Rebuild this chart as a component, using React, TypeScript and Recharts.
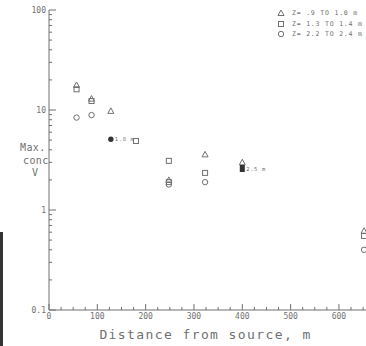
import React from "react";
import { ScatterChart, Scatter, XAxis, YAxis, Legend } from "recharts";

const xTicks = [
  0, 25, 50, 75, 100, 125, 150, 175, 200, 225, 250, 275, 300, 325, 350, 375,
  400, 425, 450, 475, 500, 525, 550, 575, 600, 625, 650,
];
const xLabels = [0, 100, 200, 300, 400, 500, 600];
const yTicks = [
  0.1, 0.2, 0.3, 0.4, 0.5, 0.6, 0.7, 0.8, 0.9, 1, 2, 3, 4, 5, 6, 7, 8, 9, 10,
  20, 30, 40, 50, 60, 70, 80, 90, 100,
];
const yLabels = [0.1, 1, 10, 100];

const triangleData = [
  { x: 57, y: 17.8 },
  { x: 88, y: 13 },
  { x: 128, y: 9.8 },
  { x: 248, y: 2.0 },
  { x: 323, y: 3.6 },
  { x: 400, y: 3.0 },
  { x: 652, y: 0.62 },
];
const squareData = [
  { x: 57, y: 16.1 },
  { x: 88, y: 12.3 },
  { x: 180, y: 4.9 },
  { x: 248, y: 3.1 },
  { x: 248, y: 1.9 },
  { x: 323, y: 2.35 },
  { x: 652, y: 0.55 },
];
const circleData = [
  { x: 57, y: 8.4 },
  { x: 88, y: 8.9 },
  { x: 248, y: 1.8 },
  { x: 323, y: 1.9 },
  { x: 652, y: 0.4 },
];
const filledData = [
  { x: 128, y: 5.1, label: "1.8 m", kind: "circle" },
  { x: 400, y: 2.6, label: "2.5 m", kind: "square" },
];

const legendItems = [
  { kind: "triangle", text: "Z= .9 TO 1.0 m" },
  { kind: "square", text: "Z= 1.3 TO 1.4 m" },
  { kind: "circle", text: "Z= 2.2 TO 2.4 m" },
];

const GRAY = "#707070";
const MONO = "'DejaVu Sans Mono', monospace";
const AXIS_X = 49;
const AXIS_Y = 310;

function marker(kind: string, cx: number, cy: number, fill: string) {
  if (kind === "triangle") {
    return (
      <path
        d={`M${cx},${cy - 3} L${cx + 3},${cy + 2.5} L${cx - 3},${cy + 2.5} Z`}
        fill={fill}
        stroke={GRAY}
        strokeWidth={1}
      />
    );
  }
  if (kind === "square") {
    return (
      <rect x={cx - 2.5} y={cy - 2.5} width={5} height={5} fill={fill} stroke={GRAY} strokeWidth={1} />
    );
  }
  return <circle cx={cx} cy={cy} r={2.7} fill={fill} stroke={GRAY} strokeWidth={1} />;
}

const shapeOf = (kind: string) => (props: any) => marker(kind, props.cx, props.cy, "none");

const FilledShape = (props: any) => {
  const { cx, cy, payload } = props;
  return (
    <g>
      {payload.kind === "circle" ? (
        <circle cx={cx} cy={cy} r={2.7} fill="#333" />
      ) : (
        <rect x={cx - 2.5} y={cy - 3.5} width={5} height={7} fill="#333" />
      )}
      <text x={cx + 4} y={cy + 2} fontSize={5.5} fontFamily={MONO} fill={GRAY} letterSpacing={0.6}>
        {payload.label}
      </text>
    </g>
  );
};

const XTick = (props: any) => {
  const { x, payload } = props;
  const v = payload.value;
  const major = v % 100 === 0;
  return (
    <g>
      <line x1={x} x2={x} y1={AXIS_Y} y2={AXIS_Y - (major ? 6 : 3)} stroke={GRAY} />
      {xLabels.includes(v) && (
        <text x={x} y={AXIS_Y + 9} textAnchor="middle" fontSize={8} fontFamily={MONO} fill={GRAY}>
          {v}
        </text>
      )}
    </g>
  );
};

const YTick = (props: any) => {
  const { y, payload } = props;
  const v = payload.value;
  const major = yLabels.includes(v);
  return (
    <g>
      <line x1={AXIS_X} x2={AXIS_X + (major ? 7 : 3)} y1={y} y2={y} stroke={GRAY} />
      {major && (
        <text x={AXIS_X - 3} y={y + 3} textAnchor="end" fontSize={8} fontFamily={MONO} fill={GRAY}>
          {v}
        </text>
      )}
    </g>
  );
};

const LegendBox = () => (
  <div style={{ fontFamily: MONO, fontSize: 6.5, color: GRAY, letterSpacing: 0.8, whiteSpace: "nowrap" }}>
    {legendItems.map((it) => (
      <div key={it.text} style={{ display: "flex", alignItems: "center", height: 10.5 }}>
        <svg width={10} height={8} style={{ marginRight: 5 }}>
          {marker(it.kind, 4, 4, "none")}
        </svg>
        <span>{it.text}</span>
      </div>
    ))}
  </div>
);

export default function App() {
  return (
    <div style={{ position: "absolute", left: 0, top: 0, width: 366, height: 346 }}>
      <div
        style={{
          position: "absolute",
          left: 0,
          top: 232,
          width: 3,
          height: 114,
          background: "#333",
        }}
      />
      <ScatterChart width={366} height={346} margin={{ top: 10, right: 0, bottom: 0, left: 0 }}>
        <XAxis
          type="number"
          dataKey="x"
          domain={[0, 656]}
          ticks={xTicks}
          interval={0}
          allowDataOverflow
          height={36}
          stroke={GRAY}
          tickLine={false}
          tickSize={0}
          tick={<XTick />}
          label={{
            value: "Distance from source, m",
            position: "insideBottom",
            offset: 7,
            fill: GRAY,
            fontSize: 13,
            fontFamily: MONO,
            letterSpacing: 1.4,
            dx: -2,
          }}
        />
        <YAxis
          type="number"
          dataKey="y"
          scale="log"
          domain={[0.1, 100]}
          ticks={yTicks}
          interval={0}
          allowDataOverflow
          width={49}
          stroke={GRAY}
          tickLine={false}
          tickSize={0}
          tick={<YTick />}
          label={() => (
            <text fontSize={10} fontFamily={MONO} fill={GRAY} letterSpacing={0.4}>
              <tspan x={20} y={151}>Max.</tspan>
              <tspan x={23} y={164}>conc</tspan>
              <tspan x={32} y={176}>V</tspan>
            </text>
          )}
        />
        <Legend
          layout="vertical"
          align="center"
          verticalAlign="middle"
          content={<LegendBox />}
          wrapperStyle={{ top: 8, left: 277, width: "auto" }}
        />
        <Scatter data={triangleData} shape={shapeOf("triangle")} isAnimationActive={false} />
        <Scatter data={squareData} shape={shapeOf("square")} isAnimationActive={false} />
        <Scatter data={circleData} shape={shapeOf("circle")} isAnimationActive={false} />
        <Scatter data={filledData} shape={<FilledShape />} isAnimationActive={false} />
      </ScatterChart>
    </div>
  );
}
